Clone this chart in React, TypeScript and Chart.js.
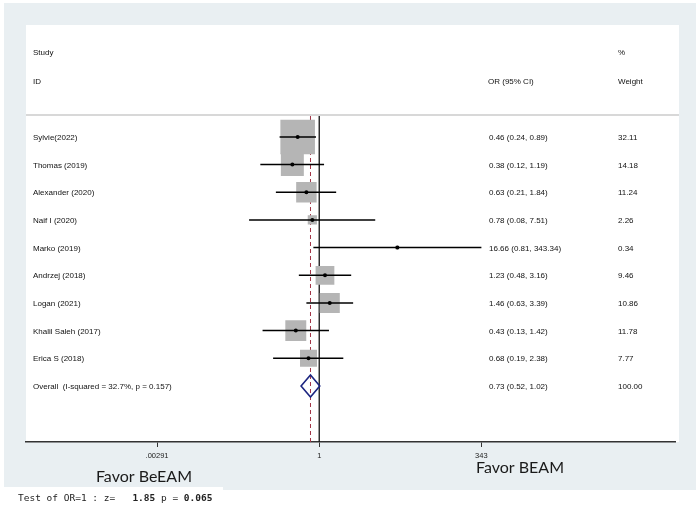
import React, { useEffect, useRef } from 'react';
import { Chart, registerables } from 'chart.js';

Chart.register(...registerables);

// ---------------- data ----------------
const studies = [
  'Sylvie(2022)',
  'Thomas (2019)',
  'Alexander (2020)',
  'Naif I (2020)',
  'Marko (2019)',
  'Andrzej (2018)',
  'Logan (2021)',
  'Khalil Saleh (2017)',
  'Erica S (2018)',
];
const oddsRatios = [0.46, 0.38, 0.63, 0.78, 16.66, 1.23, 1.46, 0.43, 0.68];
const ciLower = [0.24, 0.12, 0.21, 0.08, 0.81, 0.48, 0.63, 0.13, 0.19];
const ciUpper = [0.89, 1.19, 1.84, 7.51, 343.34, 3.16, 3.39, 1.42, 2.38];
const weights = [32.11, 14.18, 11.24, 2.26, 0.34, 9.46, 10.86, 11.78, 7.77];

const overallLabel = 'Overall  (I-squared = 32.7%, p = 0.157)';
const overallOR = 0.73;
const overallLower = 0.52;
const overallUpper = 1.02;
const overallWeight = 100.0;
const nullValue = 1;

const tickValues = [0.00291, 1, 343];
const tickLabels = ['.00291', '1', '343'];
const xAxisMin = 2.6e-5;
const xAxisMax = 3.73e5;

const leftNote = 'Favor BeEAM';
const rightNote = 'Favor BEAM';
const testParts: [string, boolean][] = [
  ['Test of OR=1 : z=   ', false],
  ['1.85', true],
  [' p = ', false],
  ['0.065', true],
];

// ---------------- layout / style ----------------
const W = 700;
const H = 513;
const SANS = '"Liberation Sans", Arial, Helvetica, sans-serif';
const MONO = '"DejaVu Sans Mono", "Liberation Mono", monospace';
const BG_GRAY = '#e9eff2';
const BOX_GRAY = '#b5b5b5';
const NAVY = '#1c2580';
const MAROON = '#a23345';

const boxSide = (w: number) => 6.1 * Math.sqrt(w);

export default function App() {
  const ref = useRef<HTMLCanvasElement>(null);

  useEffect(() => {
    const canvas = ref.current;
    if (!canvas) return;
    const idx = studies.map((_, i) => i);
    const overallRow = studies.length;

    const ciDatasets = idx.map((i) => ({
      label: studies[i] + ' CI',
      data: [
        { x: ciLower[i], y: i },
        { x: ciUpper[i], y: i },
      ],
      showLine: true,
      borderColor: '#000',
      borderWidth: 1.5,
      pointRadius: 0,
      order: 2,
    }));

    const backgroundPlugin = {
      id: 'bgPanels',
      beforeDraw(chart: any) {
        const ctx = chart.ctx;
        ctx.save();
        ctx.fillStyle = '#ffffff';
        ctx.fillRect(0, 0, W, H);
        ctx.fillStyle = BG_GRAY;
        ctx.fillRect(4, 3, 692, 487);
        ctx.fillStyle = '#ffffff';
        ctx.fillRect(26, 25, 653, 417);
        ctx.fillStyle = '#d8d8d8';
        ctx.fillRect(26, 114, 653, 2);
        ctx.fillStyle = '#ffffff';
        ctx.fillRect(0, 487, 223, 26);
        ctx.restore();
      },
    };

    const refLinesPlugin = {
      id: 'refLines',
      beforeDatasetsDraw(chart: any) {
        const ctx = chart.ctx;
        const xs = chart.scales.x;
        const { top, bottom } = chart.chartArea;
        ctx.save();
        const x1 = xs.getPixelForValue(nullValue);
        ctx.strokeStyle = '#111';
        ctx.lineWidth = 1.3;
        ctx.beginPath();
        ctx.moveTo(x1, top);
        ctx.lineTo(x1, bottom);
        ctx.stroke();
        const xo = xs.getPixelForValue(overallOR);
        ctx.strokeStyle = MAROON;
        ctx.lineWidth = 1;
        ctx.setLineDash([4, 3]);
        ctx.beginPath();
        ctx.moveTo(xo, top);
        ctx.lineTo(xo, bottom);
        ctx.stroke();
        ctx.restore();
      },
    };

    const overlayPlugin = {
      id: 'overlay',
      afterDraw(chart: any) {
        const ctx = chart.ctx;
        const xs = chart.scales.x;
        const ys = chart.scales.y;
        ctx.save();
        // overall diamond
        const yc = ys.getPixelForValue(overallRow);
        const half = 11;
        ctx.strokeStyle = NAVY;
        ctx.lineWidth = 1.6;
        ctx.beginPath();
        ctx.moveTo(xs.getPixelForValue(overallLower), yc);
        ctx.lineTo(xs.getPixelForValue(overallOR), yc - half);
        ctx.lineTo(xs.getPixelForValue(overallUpper), yc);
        ctx.lineTo(xs.getPixelForValue(overallOR), yc + half);
        ctx.closePath();
        ctx.stroke();

        // header
        ctx.fillStyle = '#111';
        ctx.font = '8px ' + SANS;
        ctx.textBaseline = 'middle';
        ctx.textAlign = 'left';
        ctx.fillText('Study', 33, 53);
        ctx.fillText('ID', 33, 82);
        ctx.fillText('OR (95% CI)', 488, 82);
        ctx.fillText('%', 618, 53);
        ctx.fillText('Weight', 618, 82);

        // rows
        idx.forEach((i) => {
          const y = ys.getPixelForValue(i) + 1;
          ctx.fillText(studies[i], 33, y);
          ctx.fillText(
            `${oddsRatios[i].toFixed(2)} (${ciLower[i].toFixed(2)}, ${ciUpper[i].toFixed(2)})`,
            489,
            y
          );
          ctx.fillText(weights[i].toFixed(2), 618, y);
        });
        const yo = ys.getPixelForValue(overallRow) + 1;
        ctx.fillText(overallLabel, 33, yo);
        ctx.fillText(
          `${overallOR.toFixed(2)} (${overallLower.toFixed(2)}, ${overallUpper.toFixed(2)})`,
          489,
          yo
        );
        ctx.fillText(overallWeight.toFixed(2), 618, yo);

        // favour notes
        ctx.fillStyle = '#1a1a1a';
        ctx.font = '16px Lato, "Open Sans", sans-serif';
        ctx.textAlign = 'center';
        ctx.fillText(leftNote, 144, 477);
        ctx.fillText(rightNote, 520, 468);

        // test line
        ctx.textAlign = 'left';
        ctx.fillStyle = '#222';
        let x = 18;
        testParts.forEach(([t, bold]) => {
          ctx.font = (bold ? 'bold ' : '') + '9.5px ' + MONO;
          ctx.fillText(t, x, 499);
          x += ctx.measureText(t).width;
        });
        ctx.restore();
      },
    };

    const chart = new Chart(canvas, {
      type: 'scatter',
      data: {
        datasets: [
          {
            label: 'weight boxes',
            data: idx.map((i) => ({ x: oddsRatios[i], y: i })),
            pointStyle: 'rect',
            pointRadius: (c: any) => boxSide(weights[c.dataIndex]) / (2 * Math.SQRT1_2),
            pointHoverRadius: (c: any) => boxSide(weights[c.dataIndex]) / (2 * Math.SQRT1_2),
            backgroundColor: BOX_GRAY,
            borderWidth: 0,
            order: 3,
          } as any,
          ...ciDatasets,
          {
            label: 'estimates',
            data: idx.map((i) => ({ x: oddsRatios[i], y: i })),
            pointStyle: 'circle',
            pointRadius: 2,
            backgroundColor: '#000',
            borderWidth: 0,
            order: 1,
          },
        ],
      },
      options: {
        responsive: false,
        animation: false,
        events: [],
        layout: { padding: { left: 26, right: 20, top: 116, bottom: 51 } },
        plugins: {
          legend: { display: false },
          tooltip: { enabled: false },
        },
        scales: {
          x: {
            type: 'logarithmic',
            min: xAxisMin,
            max: xAxisMax,
            bounds: 'data',
            afterBuildTicks: (s: any) => {
              s.ticks = tickValues.map((v) => ({ value: v }));
            },
            afterFit: (s: any) => {
              s.height = 20;
            },
            ticks: {
              autoSkip: false,
              maxRotation: 0,
              minRotation: 0,
              padding: 4,
              color: '#222',
              font: { family: SANS, size: 7.5 },
              callback: (v: any) => {
                const k = tickValues.indexOf(Number(v));
                return k >= 0 ? tickLabels[k] : '';
              },
            },
            grid: {
              display: true,
              drawOnChartArea: false,
              drawTicks: true,
              tickLength: 5,
              color: '#333',
              lineWidth: 1,
            },
            border: { display: true, color: '#333', width: 1.5 },
          } as any,
          y: {
            type: 'linear',
            display: false,
            reverse: true,
            min: -0.757,
            max: 11.027,
          },
        },
      },
      plugins: [backgroundPlugin, refLinesPlugin, overlayPlugin],
    });
    return () => chart.destroy();
  }, []);

  return (
    <div style={{ position: 'absolute', left: 0, top: 0, width: W, height: H }}>
      <canvas ref={ref} width={W} height={H} style={{ display: 'block' }} />
    </div>
  );
}
